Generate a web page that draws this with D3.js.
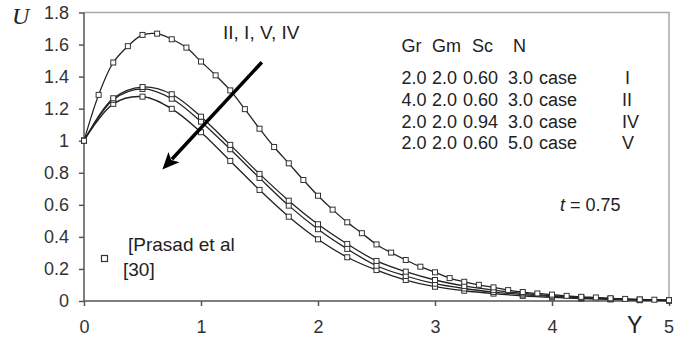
<!DOCTYPE html>
<html>
<head>
<meta charset="utf-8">
<script src="https://cdn.jsdelivr.net/npm/d3@7"></script>
<style>
  html, body { margin: 0; padding: 0; background: #fff; }
  svg { display: block; font-family: Arial, "Liberation Sans", sans-serif; }
</style>
</head>
<body>
<div id="chart"></div>
<script>
// Y positions of the markers
var yFine = [0, 0.125, 0.25, 0.375, 0.5, 0.625, 0.75, 0.875, 1, 1.125, 1.25, 1.375, 1.5, 1.625, 1.75, 1.875,
  2, 2.125, 2.25, 2.375, 2.5, 2.625, 2.75, 2.875, 3, 3.125, 3.25, 3.375, 3.5, 3.625, 3.75, 3.875,
  4, 4.125, 4.25, 4.375, 4.5, 4.625, 4.75, 4.875, 5];
var yCoarse = [0, 0.25, 0.5, 0.75, 1, 1.25, 1.5, 1.75, 2, 2.25, 2.5, 2.75, 3, 3.25, 3.5, 3.75, 4, 4.25, 4.5, 4.75, 5];

// velocity U for each case
var caseII = [1.0, 1.286, 1.488, 1.590, 1.660, 1.668, 1.633, 1.581, 1.494, 1.408, 1.314, 1.197, 1.075, 0.961, 0.859, 0.755,
  0.657, 0.570, 0.491, 0.423, 0.353, 0.302, 0.256, 0.214, 0.179, 0.143, 0.120, 0.101, 0.085, 0.068, 0.056, 0.047,
  0.040, 0.032, 0.026, 0.022, 0.017, 0.013, 0.010, 0.008, 0.005];
var caseI = [1.0, 1.265, 1.335, 1.290, 1.150, 0.974, 0.793, 0.626, 0.479, 0.356, 0.250, 0.183, 0.131, 0.094, 0.068, 0.048, 0.033, 0.022, 0.015, 0.008, 0.004];
var caseV = [1.0, 1.255, 1.323, 1.262, 1.119, 0.947, 0.768, 0.595, 0.448, 0.325, 0.220, 0.156, 0.108, 0.078, 0.056, 0.040, 0.028, 0.018, 0.012, 0.007, 0.003];
var caseIV = [1.0, 1.230, 1.275, 1.199, 1.053, 0.874, 0.693, 0.526, 0.385, 0.273, 0.193, 0.131, 0.089, 0.064, 0.046, 0.032, 0.022, 0.015, 0.010, 0.005, 0.003];

var xTicks = [0, 1, 2, 3, 4, 5];
var xTickLabels = ["0", "1", "2", "3", "4", ""];
var yTicks = [0, 0.2, 0.4, 0.6, 0.8, 1, 1.2, 1.4, 1.6, 1.8];
var yTickLabels = ["0", "0.2", "0.4", "0.6", "0.8", "1", "1.2", "1.4", "1.6", "1.8"];

// parameter table
var tableHead = ["Gr", "Gm", "Sc", "N"];
var tableGr = ["2.0", "4.0", "2.0", "2.0"];
var tableGm = ["2.0", "2.0", "2.0", "2.0"];
var tableSc = ["0.60", "0.60", "0.94", "0.60"];
var tableN = ["3.0", "3.0", "3.0", "5.0"];
var tableCase = ["I", "II", "IV", "V"];

// arrow in data units (from, to)
var arrowFrom = [1.52, 1.49];
var arrowTo = [0.67, 0.82];

var W = 674, H = 337;
var FONT = 18;
var svg = d3.select('#chart').append('svg').attr('width', W).attr('height', H);

var x = d3.scaleLinear().domain([0, 5]).range([84, 669]);
var y = d3.scaleLinear().domain([0, 1.8]).range([301, 12.5]);

// frame top/right
svg.append('path')
  .attr('d', 'M' + x(0) + ',' + y(1.8) + 'H' + x(5) + 'V' + y(0))
  .attr('fill', 'none').attr('stroke', '#a8a8a8').attr('stroke-width', 1.5);

var xAxis = svg.append('g').attr('transform', 'translate(0,' + y(0) + ')')
  .call(d3.axisBottom(x).tickValues(xTicks).tickSize(5).tickPadding(14)
    .tickFormat(function (d, i) { return xTickLabels[i]; }));
var yAxis = svg.append('g').attr('transform', 'translate(' + x(0) + ',0)')
  .call(d3.axisLeft(y).tickValues(yTicks).tickSize(5).tickPadding(10)
    .tickFormat(function (d, i) { return yTickLabels[i]; }));
[xAxis, yAxis].forEach(function (a) {
  a.selectAll('path, line').attr('stroke', '#555').attr('stroke-width', 1.5);
  a.selectAll('text').attr('fill', '#333').style('font-size', FONT + 'px').style('font-family', 'Arial, "Liberation Sans", sans-serif');
});
xAxis.select('.domain').attr('d', 'M' + x(0) + ',0H' + x(5));
yAxis.select('.domain').attr('d', 'M0,' + y(0) + 'V' + y(1.8));

var series = [
  { xs: yCoarse, us: caseIV },
  { xs: yCoarse, us: caseV },
  { xs: yCoarse, us: caseI },
  { xs: yFine, us: caseII }
];

var line = d3.line()
  .x(function (d) { return x(d[0]); })
  .y(function (d) { return y(d[1]); })
  .curve(d3.curveCatmullRom);

series.forEach(function (s) {
  var pts = s.xs.map(function (v, i) { return [v, s.us[i]]; });
  svg.append('path').datum(pts).attr('d', line)
    .attr('fill', 'none').attr('stroke', '#222').attr('stroke-width', 1.3);
  svg.append('g').selectAll('rect').data(pts).enter().append('rect')
    .attr('x', function (d) { return x(d[0]) - 2.5; })
    .attr('y', function (d) { return y(d[1]) - 2.5; })
    .attr('width', 5).attr('height', 5)
    .attr('fill', '#fff').attr('stroke', '#333').attr('stroke-width', 1);
});

// arrow
var ax1 = x(arrowFrom[0]), ay1 = y(arrowFrom[1]), ax2 = x(arrowTo[0]), ay2 = y(arrowTo[1]);
var ang = Math.atan2(ay2 - ay1, ax2 - ax1);
var hl = 17, hw = 7.5;
var bx = ax2 - hl * Math.cos(ang), by = ay2 - hl * Math.sin(ang);
svg.append('line').attr('x1', ax1).attr('y1', ay1).attr('x2', bx + 3 * Math.cos(ang)).attr('y2', by + 3 * Math.sin(ang))
  .attr('stroke', '#000').attr('stroke-width', 3.5);
svg.append('path')
  .attr('d', 'M' + ax2 + ',' + ay2 +
    'L' + (bx + hw * Math.sin(ang)) + ',' + (by - hw * Math.cos(ang)) +
    'L' + (bx + 4 * Math.cos(ang)) + ',' + (by + 4 * Math.sin(ang)) +
    'L' + (bx - hw * Math.sin(ang)) + ',' + (by + hw * Math.cos(ang)) + 'Z')
  .attr('fill', '#000');

var txt = function (t, px, py, size, opts) {
  var el = svg.append('text').attr('x', px).attr('y', py).text(t)
    .style('font-size', size + 'px').attr('fill', '#222');
  if (opts) Object.keys(opts).forEach(function (k) { el.style(k, opts[k]); });
  return el;
};

txt('II, I, V, IV', 223, 39, 19);

// parameter table
var hx = [401.5, 432, 472, 513];
tableHead.forEach(function (h, i) { txt(h, hx[i], 51.5, FONT); });
var rowY = [84, 106, 127.5, 149];
tableGr.forEach(function (v, i) {
  txt(v, 401.5, rowY[i], FONT);
  txt(tableGm[i], 432, rowY[i], FONT);
  txt(tableSc[i], 463, rowY[i], FONT);
  txt(tableN[i], 508, rowY[i], FONT);
  txt('case', 539, rowY[i], FONT);
  txt(tableCase[i], tableCase[i] === 'I' ? 625 : 622, rowY[i], FONT);
});

// t = 0.75
var tt = svg.append('text').attr('x', 560).attr('y', 211).attr('fill', '#222').style('font-size', FONT + 'px');
tt.append('tspan').text('t').style('font-style', 'italic');
tt.append('tspan').text(' = 0.75');

// reference marker legend
svg.append('rect').attr('x', 101.5).attr('y', 255.5).attr('width', 6).attr('height', 6)
  .attr('fill', '#fff').attr('stroke', '#333').attr('stroke-width', 1.2);
txt('[Prasad et al', 128, 251, 19);
txt('[30]', 123, 276, 19);

// axis titles
txt('U', 12, 24, 24, { 'font-family': '"Liberation Serif", "DejaVu Serif", serif', 'font-style': 'italic' });
txt('Y', 627, 333, 23);
txt('5', 664, 333, FONT).attr('fill', '#333');
</script>
</body>
</html>
